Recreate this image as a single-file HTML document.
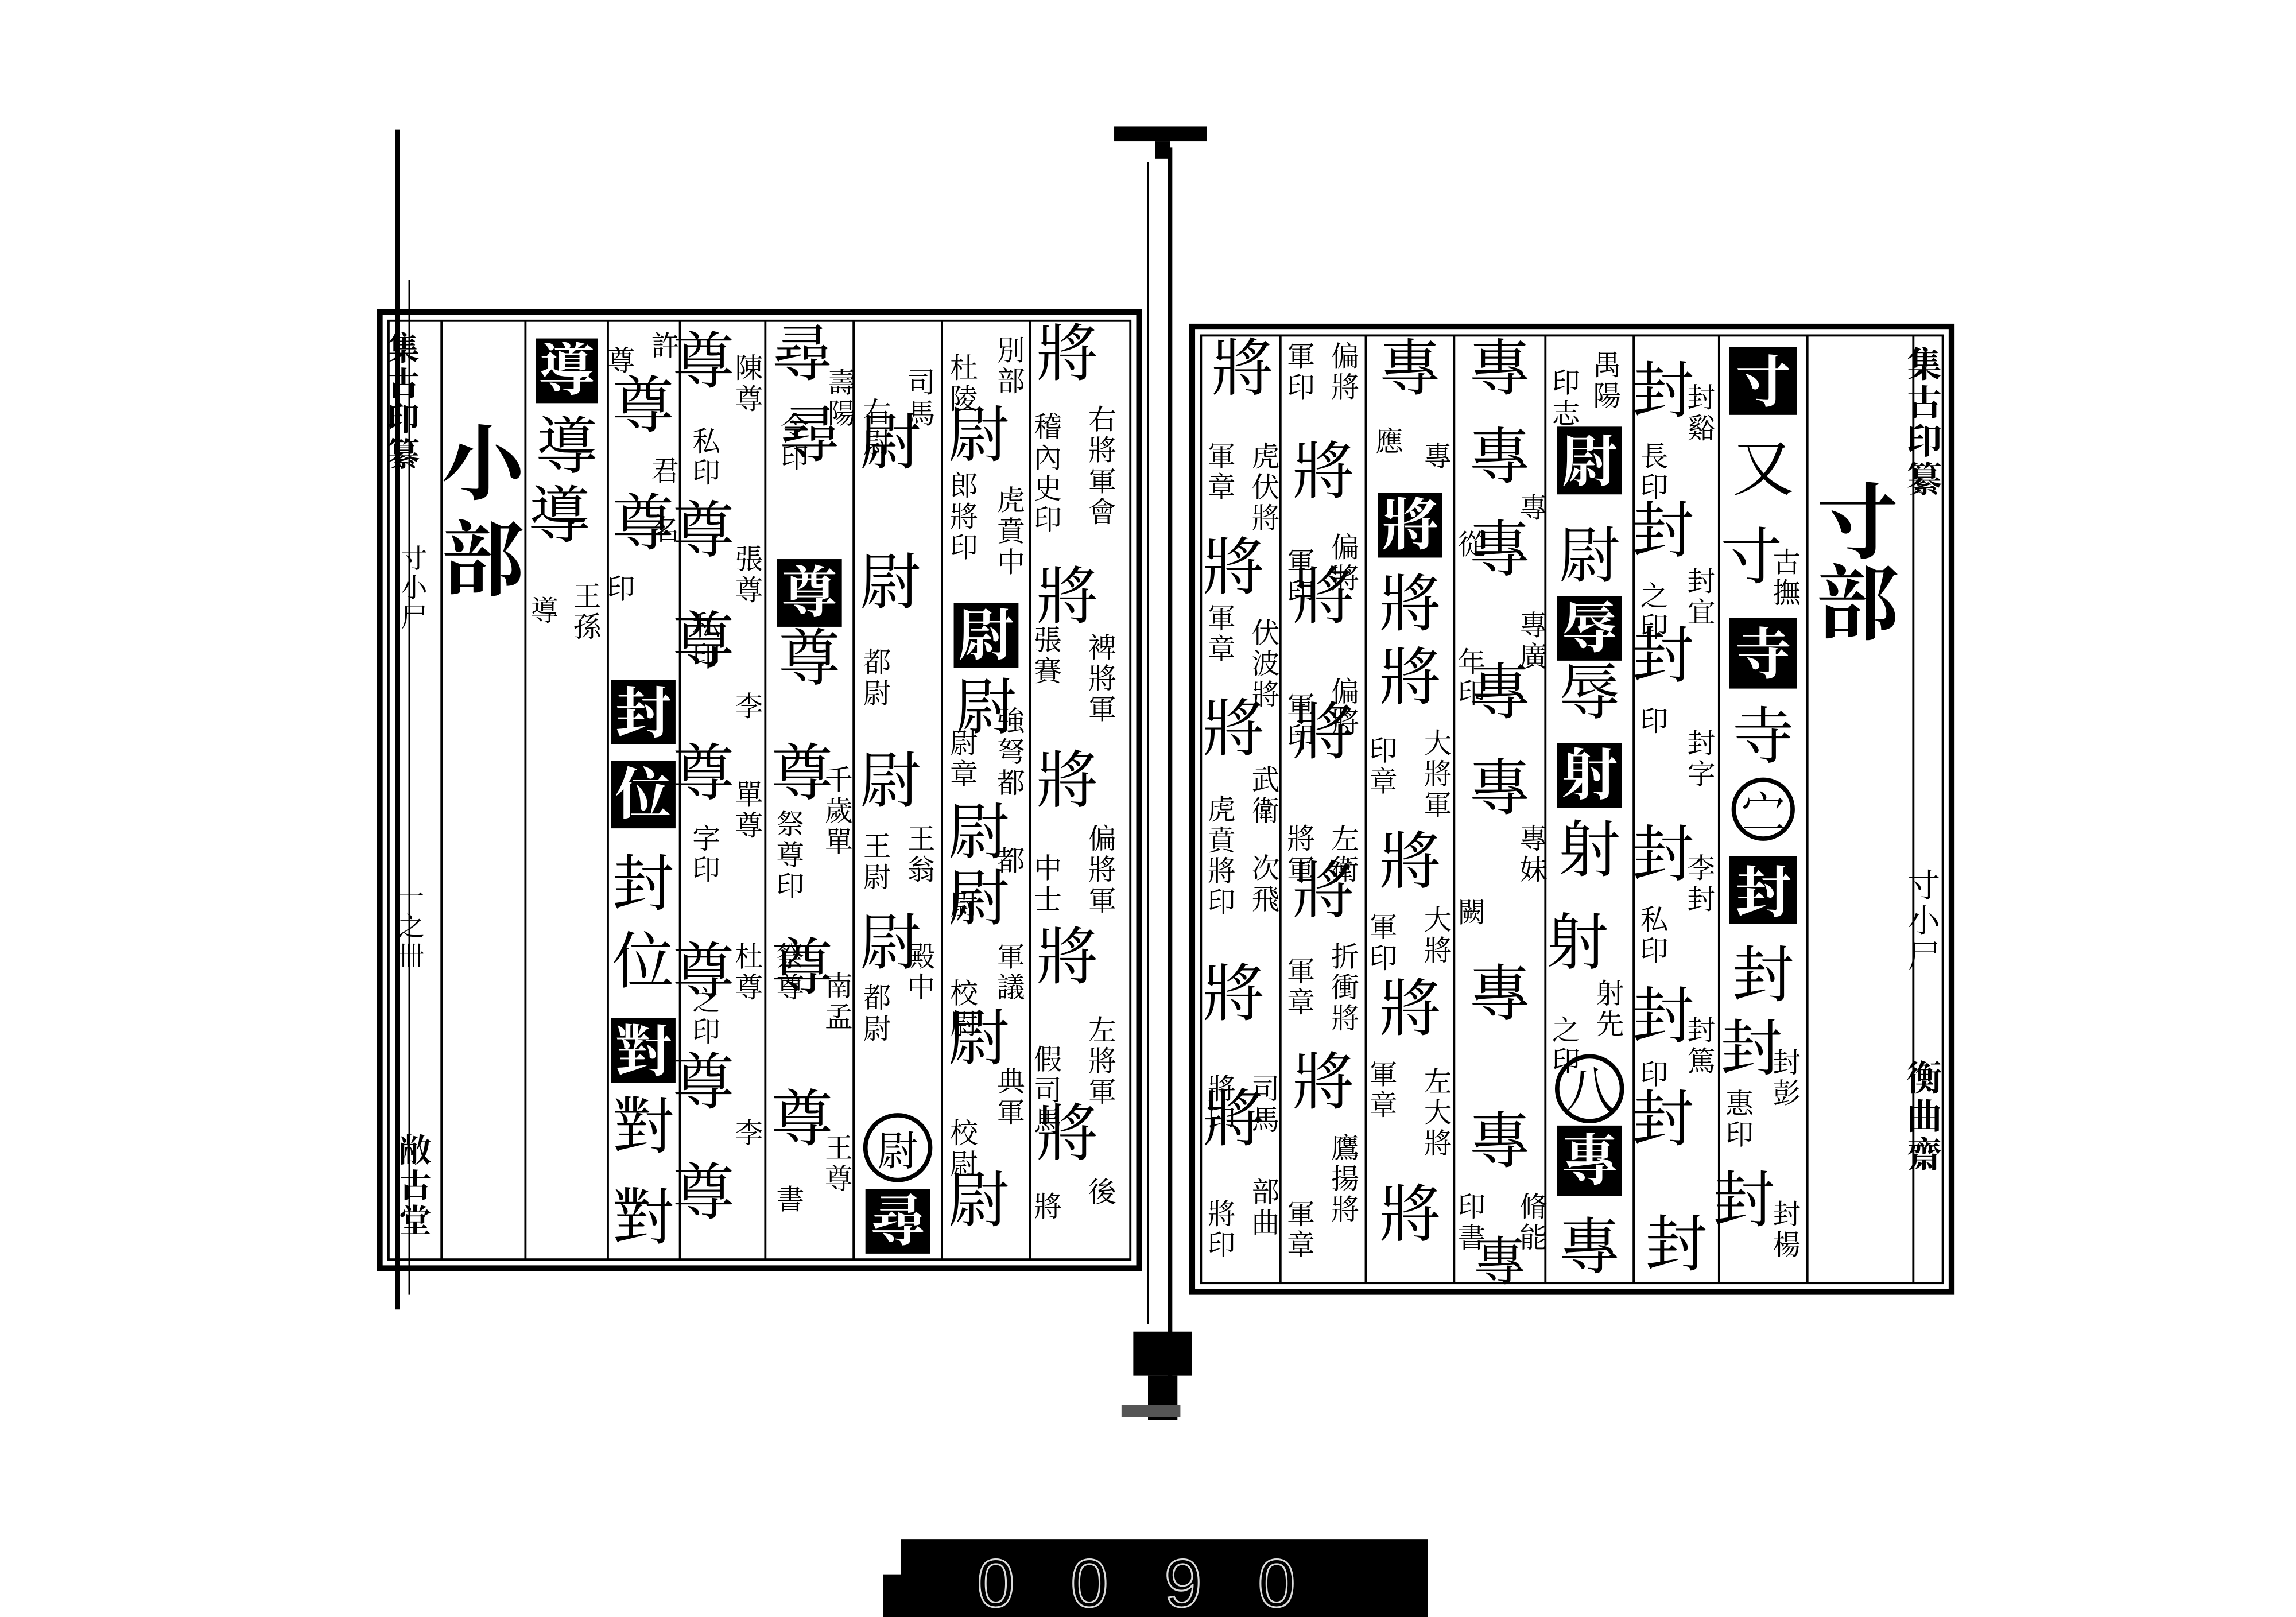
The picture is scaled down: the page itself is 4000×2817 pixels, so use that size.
<!DOCTYPE html>
<html><head><meta charset="utf-8">
<style>
html,body{margin:0;padding:0;background:#fff;}
svg{display:block;}
text{font-family:"Liberation Serif","Noto Serif CJK SC","Noto Sans CJK SC",serif;}
.b{font-size:42px;font-weight:normal;text-anchor:middle;fill:#000;}
.w{font-size:38px;font-weight:bold;text-anchor:middle;fill:#fff;}
.s{font-size:19px;fill:#000;writing-mode:tb;letter-spacing:2px;}
.L{font-size:56px;font-weight:bold;text-anchor:middle;fill:#000;}
</style></head><body>
<svg width="4000" height="2817" viewBox="0 0 1560 1099" preserveAspectRatio="none" xmlns="http://www.w3.org/2000/svg">
<rect width="1560" height="1099" fill="#fff"/>
<line x1="270" y1="88" x2="270" y2="890" stroke="#000" stroke-width="3"/>
<line x1="278" y1="190" x2="278" y2="880" stroke="#000" stroke-width="1"/>
<rect x="757" y="86" width="63" height="10" fill="#000"/>
<rect x="785" y="96" width="10" height="12" fill="#000"/>
<line x1="795" y1="100" x2="795" y2="960" stroke="#000" stroke-width="3"/>
<line x1="780" y1="110" x2="780" y2="900" stroke="#000" stroke-width="1"/>
<rect x="770" y="905" width="40" height="30" fill="#000"/>
<rect x="780" y="935" width="20" height="30" fill="#000"/>
<rect x="762" y="955" width="40" height="8" fill="#555"/>
<rect x="258" y="212" width="516" height="650" fill="none" stroke="#000" stroke-width="4"/>
<rect x="264" y="218" width="504" height="638" fill="none" stroke="#000" stroke-width="1.5"/>
<g stroke="#000" stroke-width="1.5">
<line x1="300" y1="218" x2="300" y2="856"/>
<line x1="357" y1="218" x2="357" y2="856"/>
<line x1="413" y1="218" x2="413" y2="856"/>
<line x1="462" y1="218" x2="462" y2="856"/>
<line x1="520" y1="218" x2="520" y2="856"/>
<line x1="580" y1="218" x2="580" y2="856"/>
<line x1="640" y1="218" x2="640" y2="856"/>
<line x1="700" y1="218" x2="700" y2="856"/>
</g>
<rect x="810" y="222" width="516" height="656" fill="none" stroke="#000" stroke-width="4"/>
<rect x="816" y="228" width="504" height="644" fill="none" stroke="#000" stroke-width="1.5"/>
<g stroke="#000" stroke-width="1.5">
<line x1="870" y1="228" x2="870" y2="872"/>
<line x1="928" y1="228" x2="928" y2="872"/>
<line x1="988" y1="228" x2="988" y2="872"/>
<line x1="1050" y1="228" x2="1050" y2="872"/>
<line x1="1110" y1="228" x2="1110" y2="872"/>
<line x1="1168" y1="228" x2="1168" y2="872"/>
<line x1="1228" y1="228" x2="1228" y2="872"/>
<line x1="1300" y1="228" x2="1300" y2="872"/>
</g>
<text class="s" x="1305" y="235" style="font-size:24px;font-weight:bold">集古印纂</text>
<text class="s" x="1305" y="590" style="font-size:22px">寸小尸</text>
<text class="s" x="1305" y="720" style="font-size:24px;font-weight:bold">衡曲齋</text>
<text class="L" x="1262" y="375">寸</text>
<text class="L" x="1262" y="430">部</text>

<rect x="1175" y="236" width="46" height="46" fill="#000"/><text class="w" x="1198" y="273">寸</text>
<text class="b" x="1198" y="333">又</text>
<text class="b" x="1190" y="393">寸</text><text class="s" x="1212" y="372">古撫</text>
<rect x="1175" y="420" width="46" height="48" fill="#000"/><text class="w" x="1198" y="458">寺</text>
<text class="b" x="1198" y="515">寺</text>
<circle cx="1198" cy="550" r="20" fill="none" stroke="#000" stroke-width="3"/><text class="b" x="1198" y="563" style="font-size:30px">㝉</text>
<rect x="1175" y="582" width="46" height="46" fill="#000"/><text class="w" x="1198" y="620">封</text>
<text class="b" x="1198" y="677">封</text>
<text class="b" x="1190" y="727">封</text><text class="s" x="1212" y="712">封彭</text><text class="s" x="1180" y="740">惠印</text>
<text class="b" x="1185" y="830">封</text><text class="s" x="1212" y="815">封楊</text>
<text class="b" x="1130" y="280">封</text><text class="s" x="1154" y="260">封谿</text><text class="s" x="1122" y="300">長印</text>
<text class="b" x="1130" y="375">封</text><text class="s" x="1154" y="385">封宜</text><text class="s" x="1122" y="395">之印</text>
<text class="b" x="1130" y="460">封</text><text class="s" x="1154" y="495">封字</text><text class="s" x="1122" y="480">印</text>
<text class="b" x="1130" y="595">封</text><text class="s" x="1154" y="580">李封</text><text class="s" x="1122" y="615">私印</text>
<text class="b" x="1130" y="705">封</text><text class="s" x="1154" y="690">封篤</text><text class="s" x="1122" y="720">印</text>
<text class="b" x="1130" y="775">封</text>
<text class="b" x="1139" y="860">封</text>
<text class="s" x="1090" y="238">禺陽</text><text class="s" x="1062" y="250">印志</text>
<rect x="1058" y="290" width="44" height="46" fill="#000"/><text class="w" x="1080" y="327">尉</text>
<text class="b" x="1080" y="392">尉</text>
<rect x="1058" y="405" width="44" height="44" fill="#000"/><text class="w" x="1080" y="440">辱</text>
<text class="b" x="1080" y="485">辱</text>
<rect x="1058" y="505" width="44" height="44" fill="#000"/><text class="w" x="1080" y="540">射</text>
<text class="b" x="1080" y="592">射</text>
<text class="b" x="1072" y="655">射</text><text class="s" x="1092" y="665">射先</text><text class="s" x="1062" y="690">之印</text>
<circle cx="1080" cy="740" r="22" fill="none" stroke="#000" stroke-width="3"/><text class="b" x="1080" y="753" style="font-size:34px">八</text>
<rect x="1058" y="765" width="44" height="48" fill="#000"/><text class="w" x="1080" y="802">專</text>
<text class="b" x="1080" y="862">專</text>
<text class="b" x="1019" y="265">專</text>
<text class="b" x="1019" y="325">專</text><text class="s" x="1040" y="335">專</text>
<text class="b" x="1019" y="388">專</text><text class="s" x="998" y="360">從</text>
<text class="b" x="1019" y="485">專</text><text class="s" x="1040" y="415">專廣</text><text class="s" x="998" y="440">年印</text>
<text class="b" x="1019" y="550">專</text>
<text class="s" x="1040" y="560">專妹</text><text class="s" x="998" y="610">闕</text>
<text class="b" x="1019" y="690">專</text>
<text class="b" x="1019" y="790">專</text>
<text class="s" x="1040" y="810">脩能</text><text class="s" x="998" y="810">印書</text>
<text class="b" x="1019" y="870" style="font-size:36px">專</text>
<text class="b" x="958" y="265">專</text>
<text class="s" x="975" y="300">專</text><text class="s" x="942" y="290">應</text>
<rect x="936" y="335" width="44" height="44" fill="#000"/><text class="w" x="958" y="370">將</text>
<text class="b" x="958" y="425">將</text>
<text class="b" x="958" y="475">將</text>
<text class="s" x="975" y="495">大將軍</text><text class="s" x="938" y="500">印章</text>
<text class="b" x="958" y="600">將</text>
<text class="s" x="975" y="615">大將</text><text class="s" x="938" y="620">軍印</text>
<text class="b" x="958" y="700">將</text>
<text class="s" x="975" y="725">左大將</text><text class="s" x="938" y="720">軍章</text>
<text class="b" x="958" y="840">將</text>
<text class="s" x="912" y="232">偏將</text><text class="s" x="882" y="232">軍印</text>
<text class="b" x="899" y="335">將</text>
<text class="s" x="912" y="362">偏將</text><text class="s" x="882" y="372">軍印</text>
<text class="b" x="899" y="420">將</text>
<text class="s" x="912" y="460">偏將</text><text class="s" x="882" y="470">軍印</text>
<text class="b" x="899" y="512">將</text>
<text class="s" x="912" y="560">左衛</text><text class="s" x="882" y="560">將軍</text>
<text class="b" x="899" y="620">將</text>
<text class="s" x="912" y="640">折衝將</text><text class="s" x="882" y="650">軍章</text>
<text class="b" x="899" y="750">將</text>
<text class="s" x="912" y="770">鷹揚將</text><text class="s" x="882" y="815">軍章</text>
<text class="b" x="844" y="265">將</text>
<text class="s" x="828" y="300">軍章</text><text class="s" x="858" y="300">虎伏將</text>
<text class="b" x="838" y="400">將</text>
<text class="s" x="828" y="410">軍章</text><text class="s" x="858" y="420">伏波將</text>
<text class="b" x="838" y="510">將</text>
<text class="s" x="858" y="520">武衛</text><text class="s" x="828" y="540">虎賁將印</text>
<text class="s" x="858" y="580">次飛</text>
<text class="b" x="838" y="690">將</text>
<text class="s" x="858" y="730">司馬</text><text class="s" x="828" y="730">將印</text>
<text class="b" x="838" y="775">將</text>
<text class="s" x="858" y="800">部曲</text><text class="s" x="828" y="815">將印</text>

<text class="s" x="272" y="225" style="font-size:22px;font-weight:bold">集古印纂</text>
<text class="s" x="280" y="370" style="font-size:18px">寸小尸</text>
<text class="s" x="278" y="600" style="font-size:18px">一之卌</text>
<text class="s" x="280" y="770" style="font-size:22px;font-weight:bold">敝古堂</text>
<text class="L" x="328" y="335">小</text>
<text class="L" x="328" y="400">部</text>
<rect x="364" y="230" width="42" height="44" fill="#000"/><text class="w" x="385" y="265">導</text>
<text class="b" x="385" y="318">導</text>
<text class="b" x="380" y="365">導</text><text class="s" x="397" y="395">王孫</text><text class="s" x="368" y="405">導</text>
<text class="s" x="450" y="225">許</text><text class="s" x="420" y="235">尊</text>
<text class="b" x="437" y="290">尊</text>
<text class="s" x="450" y="310">君</text>
<text class="b" x="437" y="370">尊</text><text class="s" x="450" y="350">名</text><text class="s" x="420" y="390">印</text>
<rect x="415" y="462" width="44" height="44" fill="#000"/><text class="w" x="437" y="498">封</text>
<rect x="415" y="517" width="44" height="46" fill="#000"/><text class="w" x="437" y="553">位</text>
<text class="b" x="437" y="615">封</text>
<text class="b" x="437" y="668">位</text>
<rect x="415" y="692" width="44" height="44" fill="#000"/><text class="w" x="437" y="728">對</text>
<text class="b" x="437" y="780">對</text>
<text class="b" x="437" y="842">對</text>
<text class="b" x="478" y="260">尊</text><text class="s" x="507" y="240">陳尊</text><text class="s" x="478" y="290">私印</text>
<text class="b" x="478" y="375">尊</text><text class="s" x="507" y="370">張尊</text><text class="s" x="478" y="415">私印</text>
<text class="b" x="478" y="450">尊</text><text class="s" x="507" y="470">李</text>
<text class="b" x="478" y="540">尊</text><text class="s" x="507" y="530">單尊</text><text class="s" x="478" y="560">字印</text>
<text class="b" x="478" y="675">尊</text><text class="s" x="507" y="640">杜尊</text><text class="s" x="478" y="670">之印</text>
<text class="b" x="478" y="750">尊</text><text class="s" x="507" y="760">李</text>
<text class="b" x="478" y="825">尊</text>
<text class="b" x="545" y="255">尋</text><text class="s" x="570" y="250">壽陽</text><text class="s" x="538" y="280">令印</text>
<text class="b" x="550" y="310">尋</text>
<rect x="528" y="380" width="44" height="46" fill="#000"/><text class="w" x="550" y="416">尊</text>
<text class="b" x="550" y="462">尊</text>
<text class="b" x="545" y="540">尊</text><text class="s" x="568" y="520">千歲單</text><text class="s" x="535" y="550">祭尊印</text>
<text class="b" x="545" y="672">尊</text><text class="s" x="568" y="660">南孟</text><text class="s" x="535" y="640">祭尊</text>
<text class="b" x="545" y="775">尊</text><text class="s" x="568" y="770">王尊</text><text class="s" x="535" y="805">書</text>
<text class="b" x="605" y="315">尉</text><text class="s" x="624" y="250">司馬</text><text class="s" x="594" y="270">右尉</text>
<text class="b" x="605" y="410">尉</text><text class="s" x="594" y="440">都尉</text>
<text class="b" x="605" y="545">尉</text><text class="s" x="624" y="560">王翁</text><text class="s" x="594" y="565">王尉</text>
<text class="b" x="605" y="655">尉</text><text class="s" x="624" y="640">殿中</text><text class="s" x="594" y="668">都尉</text>
<circle cx="610" cy="780" r="22" fill="none" stroke="#000" stroke-width="3"/><text class="b" x="610" y="792" style="font-size:28px">尉</text>
<rect x="588" y="808" width="44" height="44" fill="#000"/><text class="w" x="610" y="843">尋</text>
<text class="s" x="685" y="228">別部</text><text class="s" x="653" y="240">杜陵</text>
<text class="b" x="665" y="310">尉</text><text class="s" x="685" y="330">虎賁中</text><text class="s" x="653" y="320">郎將印</text>
<rect x="648" y="410" width="44" height="44" fill="#000"/><text class="w" x="670" y="445">尉</text>
<text class="b" x="670" y="495">尉</text>
<text class="s" x="685" y="480">強弩都</text><text class="s" x="653" y="495">尉章</text>
<text class="b" x="665" y="580">尉</text><text class="s" x="685" y="575">都</text><text class="s" x="653" y="605">尉</text>
<text class="b" x="665" y="625">尉</text><text class="s" x="685" y="640">軍議</text><text class="s" x="653" y="665">校尉</text>
<text class="b" x="665" y="720">尉</text><text class="s" x="685" y="725">典軍</text><text class="s" x="653" y="760">校尉</text>
<text class="b" x="665" y="830">尉</text>
<text class="b" x="725" y="255">將</text><text class="s" x="747" y="275">右將軍會</text><text class="s" x="710" y="280">稽內史印</text>
<text class="b" x="725" y="420">將</text><text class="s" x="747" y="430">裨將軍</text><text class="s" x="710" y="425">張賽</text>
<text class="b" x="725" y="545">將</text><text class="s" x="747" y="560">偏將軍</text><text class="s" x="710" y="580">中士</text>
<text class="b" x="725" y="665">將</text><text class="s" x="747" y="690">左將軍</text><text class="s" x="710" y="710">假司馬</text>
<text class="b" x="725" y="785">將</text><text class="s" x="747" y="800">後</text><text class="s" x="710" y="810">將</text>

<rect x="612" y="1046" width="358" height="53" fill="#000"/>
<rect x="600" y="1070" width="20" height="29" fill="#000"/>
<text x="791" y="1092" text-anchor="middle" style="font-family:'Liberation Sans',sans-serif;font-size:46px;letter-spacing:38px;fill:#000;stroke:#ddd;stroke-width:1.2">0090</text>
</svg>
</body></html>
